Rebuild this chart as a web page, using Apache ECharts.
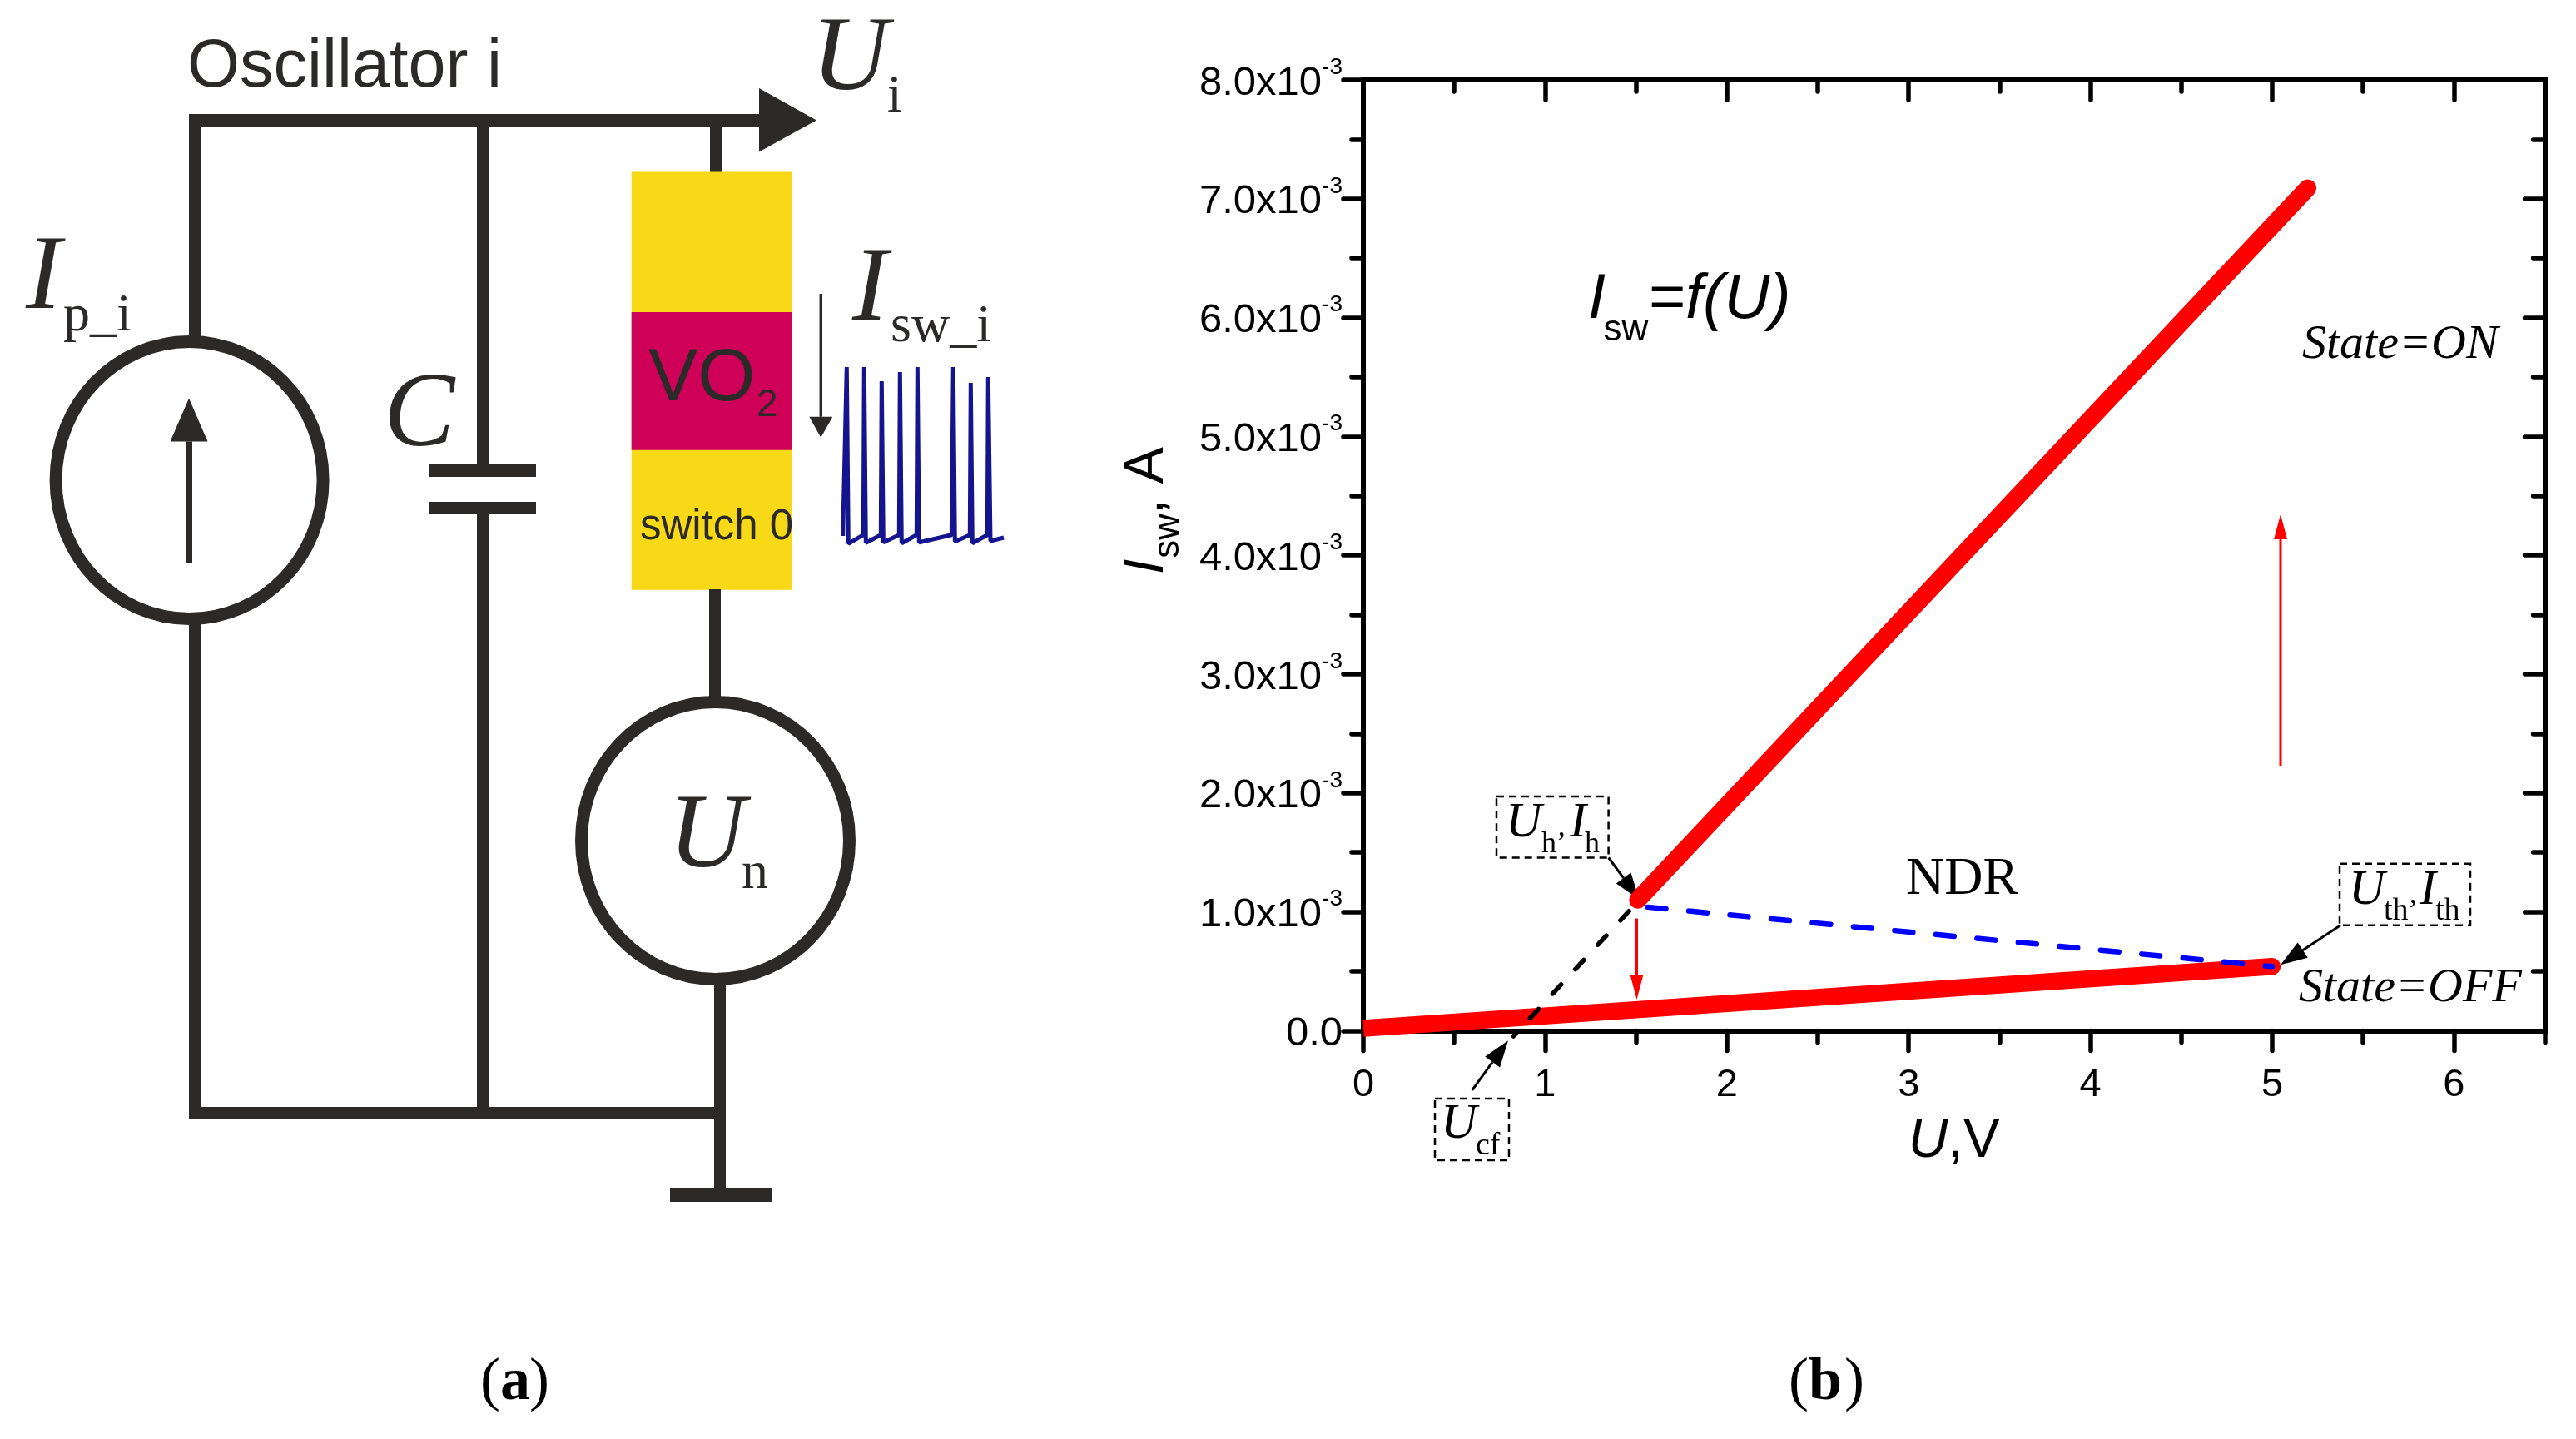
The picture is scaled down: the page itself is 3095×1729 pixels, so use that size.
<!DOCTYPE html>
<html><head><meta charset="utf-8">
<style>html,body{margin:0;padding:0;background:#fff}#c{width:3095px;height:1729px}</style>
<script src="https://cdn.jsdelivr.net/npm/echarts@6/dist/echarts.min.js"></script>
</head><body><div id="c"></div>
<script>
// ---- panel (b) values: [U in V, Isw in A]
const onState  = [[1.51, 1.10e-3], [5.195, 7.09e-3]];
const offState = [[0, 0.02e-3], [5.0, 0.54e-3]];
const ndrBranch = [[1.564, 1.04e-3], [5.0, 0.54e-3]];
const extrapolation = [[1.461, 1.006e-3], [0.826, -0.046e-3]];
const xTicks = [0, 1, 2, 3, 4, 5, 6];
const xMinorTicks = [0.5, 1.5, 2.5, 3.5, 4.5, 5.5, 6.5];
const yTickLabels = ['0.0', '1.0', '2.0', '3.0', '4.0', '5.0', '6.0', '7.0', '8.0'];
// ---- panel (a) current trace (arbitrary units)
const traceT = [12.7,17.3,19.3,37.3,38.3,40.3,58.3,59.3,61.3,80.3,81.3,83.3,101.3,102.3,104.3,143.3,145.3,147.3,165.3,166.3,168.3,186.3,187.3,190,206];
const traceI = [16,219,6.7,17.3,219,7.7,17.3,202,8.3,17.3,213,7.3,17.3,219,8.3,17.3,219,9.3,17.3,200,7.3,17.3,207,10,14];

const SANS = '"Liberation Sans"', SERIF = '"Liberation Serif"';
const INK = '#2b2a29';
const g = [];
const rect = (x0, y0, x1, y1, fill) => g.push({type:'rect', shape:{x:x0, y:y0, width:x1-x0, height:y1-y0}, style:{fill}, silent:true});
const ell = (cx, cy, rx, ry, lw) => g.push({type:'ellipse', shape:{cx, cy, rx, ry}, style:{fill:'none', stroke:INK, lineWidth:lw}, silent:true});
const poly = (pts, fill) => g.push({type:'polygon', shape:{points:pts}, style:{fill}, silent:true});
function txt(x, base, s, family, size, o) {
  o = o || {};
  const lift = family === SERIF ? 0.27 : 0.28;
  const fw = (o.italic ? 'italic ' : '') + (o.bold ? 'bold ' : '');
  const el = {type:'text', silent:true, style:{text:s, font: fw + size + 'px ' + family, fill:o.fill || '#000', align:o.align || 'left', verticalAlign:'middle'}};
  if (o.rot) {
    el.x = x - lift*size; el.y = base; el.rotation = Math.PI/2;
  } else { el.x = x; el.y = base - lift*size; }
  g.push(el);
}
function arrow(x0, y0, x1, y1, hl, hw, lw, col) {
  const d = Math.hypot(x1-x0, y1-y0), ux = (x1-x0)/d, uy = (y1-y0)/d;
  const bx = x1-ux*hl, by = y1-uy*hl;
  g.push({type:'line', shape:{x1:x0, y1:y0, x2:bx, y2:by}, style:{stroke:col, lineWidth:lw}, silent:true});
  poly([[x1,y1],[bx-uy*hw/2,by+ux*hw/2],[bx+uy*hw/2,by-ux*hw/2]], col);
}
function dashBox(x0, y0, x1, y1) {
  g.push({type:'rect', shape:{x:x0, y:y0, width:x1-x0, height:y1-y0}, style:{fill:'none', stroke:'#000', lineWidth:2.5, lineDash:[9,6]}, silent:true});
}

// ---- schematic (a)
rect(228, 137, 916, 152, INK);
poly([[912,106],[981,144.5],[912,182.6]], INK);
rect(227, 137, 242, 410, INK);
rect(227, 745, 242, 1345, INK);
rect(227, 1330, 872, 1345, INK);
rect(573, 144, 588, 560, INK);
rect(573, 610, 588, 1340, INK);
rect(516, 558, 644, 573, INK);
rect(516, 603, 644, 618, INK);
rect(853, 144, 867, 210, INK);
rect(758.7, 206.6, 952, 708.7, '#f7d917');
rect(758.7, 375, 952, 540.8, '#ce0058');
rect(852, 708, 866, 842, INK);
rect(858, 1178, 872, 1430, INK);
rect(805, 1427, 927, 1444, INK);
ell(227.6, 577, 160.5, 166.5, 15);
ell(859.5, 1010, 161, 166.5, 15);
arrow(227, 676, 227, 478.6, 52, 45, 8, INK);
arrow(986.3, 353, 986.3, 525.7, 25, 28, 3.5, INK);
txt(225, 104, 'Oscillator i', SANS, 81, {fill:INK});
txt(975, 108, 'U', SERIF, 128, {italic:true, fill:INK});
txt(1066, 134, 'i', SERIF, 64, {fill:INK});
txt(31, 371, 'I', SERIF, 128, {italic:true, fill:INK});
txt(76, 397, 'p_i', SERIF, 64, {fill:INK});
txt(461, 536, 'C', SERIF, 128, {italic:true, fill:INK});
txt(779, 481, 'VO', SANS, 89, {fill:INK});
txt(909, 500, '2', SANS, 46, {fill:INK});
txt(769, 648, 'switch 0', SANS, 51, {fill:INK});
txt(1024, 385, 'I', SERIF, 128, {italic:true, fill:INK});
txt(1070, 410.7, 'sw_i', SERIF, 64, {fill:INK});
txt(803, 1042, 'U', SERIF, 128, {italic:true, fill:INK});
txt(891, 1067.5, 'n', SERIF, 64, {fill:INK});
// ---- captions
txt(577, 1682, '(', SERIF, 72); txt(601, 1682, 'a', SERIF, 72, {bold:true}); txt(636, 1682, ')', SERIF, 72);
txt(2149, 1682, '(', SERIF, 72); txt(2173, 1682, 'b', SERIF, 72, {bold:true}); txt(2216, 1682, ')', SERIF, 72);
// ---- panel (b) annotations
txt(1908, 382.6, 'I', SANS, 76, {italic:true});
txt(1926.5, 408.7, 'sw', SANS, 44);
txt(1981, 382.6, '=', SANS, 76);
txt(2025, 382.6, 'f(U)', SANS, 76, {italic:true});
txt(2290, 1074, 'NDR', SERIF, 64);
txt(2766, 430, 'State=ON', SERIF, 58, {italic:true});
txt(2762, 1203, 'State=OFF', SERIF, 58, {italic:true});
dashBox(1798, 957, 1932.6, 1030.5);
txt(1809, 1005, 'U', SERIF, 60, {italic:true}); txt(1852, 1024.6, 'h', SERIF, 36); txt(1870, 1024.6, '\u2019', SERIF, 36);
txt(1886, 1005, 'I', SERIF, 60, {italic:true}); txt(1904, 1024.6, 'h', SERIF, 36);
dashBox(1724, 1320, 1813, 1394);
txt(1731, 1367, 'U', SERIF, 60, {italic:true}); txt(1773, 1387, 'cf', SERIF, 38);
dashBox(2811, 1037.7, 2968, 1111.7);
txt(2822, 1086.7, 'U', SERIF, 60, {italic:true}); txt(2864, 1105, 'th', SERIF, 38); txt(2893, 1105, '\u2019', SERIF, 36);
txt(2907, 1086.7, 'I', SERIF, 60, {italic:true}); txt(2926, 1105, 'th', SERIF, 38);
arrow(1932.6, 1030.5, 1969.6, 1080.7, 32, 22, 3, '#000');
arrow(1768.7, 1309.8, 1812, 1250.2, 32, 22, 3, '#000');
arrow(2812, 1111.7, 2740, 1159.3, 32, 22, 3, '#000');
arrow(1966.5, 1103.5, 1966.5, 1201, 30, 16, 3, '#ff0000');
arrow(2740, 920, 2740, 618, 30, 16, 3, '#ff0000');
// y axis title, rotated
txt(1397, 690, 'I', SANS, 66, {italic:true, rot:true});
txt(1416, 671, 'sw', SANS, 44, {rot:true});
txt(1397, 618, ', A', SANS, 66, {rot:true});

const axisLine = {show:true, onZero:false, lineStyle:{color:'#000', width:6, cap:'square'}};
const tickStyle = {color:'#000', width:5.5, cap:'round'};
const xAx = (pos, custom, len, inside, labels) => ({
  type:'value', gridIndex:0, position:pos, min:0, max:6.5, interval:1,
  axisLine, splitLine:{show:false},
  axisTick:{show:true, customValues:custom, length:len, inside, lineStyle:tickStyle},
  axisLabel: labels ? {show:true, customValues:xTicks, margin:42, color:'#000', fontFamily:'Liberation Sans', fontSize:47} : {show:false}
});
const yAx = (pos, inside, labels) => ({
  type:'value', gridIndex:0, position:pos, min:0, max:8e-3, interval:1e-3,
  axisLine, splitLine:{show:false},
  axisTick:{show:true, length:24, inside, lineStyle:tickStyle},
  minorTick:{show:true, splitNumber:2, length:14, lineStyle:tickStyle},
  axisLabel: labels ? {show:true, margin:25, align:'right',
    formatter:v => { const s = yTickLabels[Math.round(v*1000)]; return s === '0.0' ? '{a|0.0}' : '{a|' + s + 'x10}{b|-3}'; },
    rich:{a:{fontFamily:'Liberation Sans', fontSize:49, color:'#000', padding:[8,0,0,0]},
          b:{fontFamily:'Liberation Sans', fontSize:28, color:'#000', padding:[0,0,30,0]}}} : {show:false}
});
const line = (name, data, color, width, extra) => Object.assign({type:'line', name, data, xAxisIndex:0, yAxisIndex:0, showSymbol:false, symbol:'none', animation:false, z:3,
  lineStyle:Object.assign({color, width, cap:'round'}, extra && extra.ls)}, extra && extra.s);

const chart = echarts.init(document.getElementById('c'), null, {renderer:'canvas'});
chart.setOption({
  backgroundColor:'#fff', animation:false,
  grid:[{left:1638, top:96, width:1419.6, height:1142.4, containLabel:false},
        {left:1000, top:430, width:220, height:230, show:false}],
  xAxis:[
    Object.assign(xAx('bottom', xTicks, 24, false, true), {
      name:'{i|U}{n|,V}', nameLocation:'middle', nameGap:100,
      nameTextStyle:{rich:{i:{fontFamily:'Liberation Sans', fontStyle:'italic', fontSize:66, color:'#000'},
                           n:{fontFamily:'Liberation Sans', fontSize:66, color:'#000'}}}}),
    xAx('bottom', xMinorTicks, 14, false, false),
    xAx('top', xTicks, 24, true, false),
    xAx('top', xMinorTicks, 14, true, false),
    {type:'value', gridIndex:1, min:0, max:220, show:false}
  ],
  yAxis:[yAx('left', false, true), yAx('right', true, false),
    {type:'value', gridIndex:1, min:0, max:230, show:false}],
  graphic:{elements:g},
  series:[
    {type:'line', name:'State=OFF', data:offState, xAxisIndex:0, yAxisIndex:0, animation:false, z:1,
     showSymbol:true, showAllSymbol:true, symbol:(v)=> v[0] === 0 ? 'none' : 'circle', symbolSize:20.5,
     itemStyle:{color:'#ff0000'}, lineStyle:{color:'#ff0000', width:20.5, cap:'butt'}},
    line('State=ON', onState, '#ff0000', 21),
    line('NDR', ndrBranch, '#0000ff', 6.5, {ls:{type:[22,27.7]}}),
    line('Extrapolation', extrapolation, '#000', 5.5, {ls:{type:[15,25]}, s:{clip:false}}),
    {type:'line', name:'Isw trace', xAxisIndex:4, yAxisIndex:2, data:traceT.map((t,i)=>[t,traceI[i]]), symbol:'none', animation:false,
     lineStyle:{color:'#15148f', width:5, join:'bevel'}}
  ]
});
</script></body></html>
